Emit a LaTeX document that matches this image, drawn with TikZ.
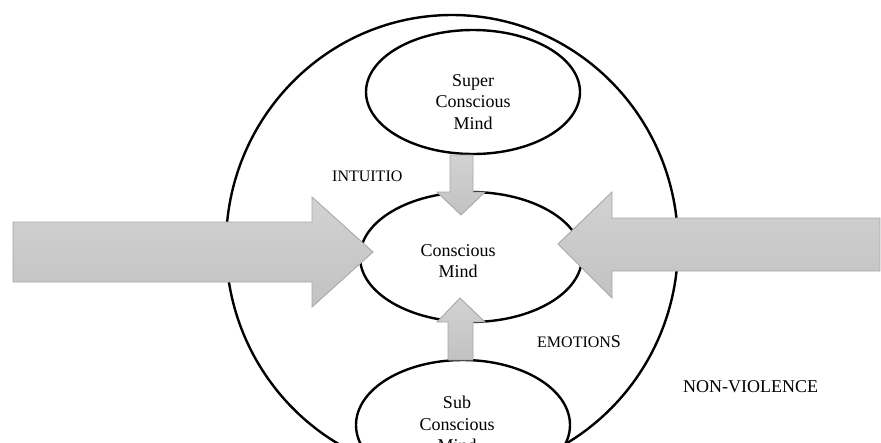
\documentclass[tikz,border=0pt]{standalone}
\usepackage{fontspec}
\setmainfont{Liberation Serif}
\usetikzlibrary{shapes.geometric}
\tikzset{
  ring/.style={draw=black, line width=2.4pt},
  bigarrow/.style={draw={rgb,255:red,168;green,168;blue,168}, line width=0.9pt,
    top color={rgb,255:red,210;green,210;blue,210}, bottom color={rgb,255:red,194;green,194;blue,194}},
  lbl/.style={inner sep=0pt, align=center, font=\fontsize{18}{21.2}\selectfont},
  captext/.style={inner sep=0pt, font=\fontsize{16}{19}\selectfont, anchor=base west},
}
\begin{document}
\begin{tikzpicture}[x=1pt,y=-1pt]
\useasboundingbox (0,0) rectangle (881,442);
\begin{scope}
\clip (0,0) rectangle (881,442);
% outer ring
\draw[ring] (452,245) ellipse [x radius=226, y radius=230];
% inner ellipses
\draw[ring] (473,92) ellipse [x radius=107, y radius=62];
\draw[ring] (471,257) ellipse [x radius=111, y radius=65];
\draw[ring] (463,425) ellipse [x radius=107, y radius=65];
% arrows
\path[bigarrow] (450,155) -- (473,155) -- (473,192) -- (485,192) -- (461,215) -- (437,192) -- (450,192) -- cycle;
\path[bigarrow] (448,360) -- (473,360) -- (473,322) -- (485,322) -- (460,298) -- (437,322) -- (448,322) -- cycle;
\path[bigarrow] (13,222) -- (312,222) -- (312,197) -- (373,252) -- (312,307) -- (312,282) -- (13,282) -- cycle;
\path[bigarrow] (880,218) -- (612,218) -- (612,192) -- (558,244) -- (612,298) -- (612,271) -- (880,271) -- cycle;
% texts
\node[lbl] (super) at (473,102) {Super\\Conscious\\Mind};
\node[lbl] (conscious) at (458,261) {Conscious\\Mind};
\node[lbl] (sub) at (457,424) {Sub\\Conscious\\Mind};
\end{scope}
\node[captext] (intuitio) at (332,181) {INTUITIO};
\node[captext] (emotions) at (537,347) {EMOTION{\fontsize{18}{19}\selectfont S}};
\node[captext, font=\fontsize{18}{20}\selectfont] (nonv) at (683,392) {NON-VIOLENCE};
\end{tikzpicture}
\end{document}
